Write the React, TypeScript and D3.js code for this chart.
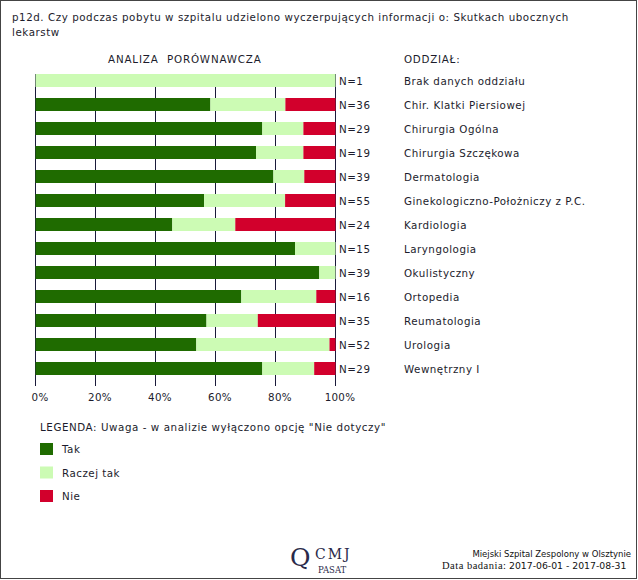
import React from "react";
import * as d3 from "d3";

const categories = [
  "Brak danych oddziału",
  "Chir. Klatki Piersiowej",
  "Chirurgia Ogólna",
  "Chirurgia Szczękowa",
  "Dermatologia",
  "Ginekologiczno-Położniczy z P.C.",
  "Kardiologia",
  "Laryngologia",
  "Okulistyczny",
  "Ortopedia",
  "Reumatologia",
  "Urologia",
  "Wewnętrzny I",
];
const nValues = [1, 36, 29, 19, 39, 55, 24, 15, 39, 16, 35, 52, 29];
const tak = [0, 58.3, 75.6, 73.5, 79.3, 56.2, 45.6, 86.5, 94.6, 68.6, 57.0, 53.6, 75.6];
const raczejTak = [100, 25.0, 13.7, 15.8, 10.3, 27.0, 21.0, 13.5, 5.4, 25.0, 17.1, 44.4, 17.3];
const nie = [0, 16.7, 10.7, 10.7, 10.4, 16.8, 33.4, 0, 0, 6.4, 25.9, 2.0, 7.1];
const seriesNames = ["Tak", "Raczej tak", "Nie"];
const seriesColors = ["#1f6b00", "#ccfbb4", "#d2002c"];
const tickValues = [0, 20, 40, 60, 80, 100];

const FONT = "'DejaVu Sans', Verdana, sans-serif";
const TEXT = "#1c1c2c";
const FS = 10.3;
const LS = 0.5;

export default function App() {
  const x = d3.scaleLinear().domain([0, 100]).range([35.5, 335.5]);
  const y = d3
    .scaleBand<string>()
    .domain(categories)
    .range([74, 375])
    .paddingInner(11 / 24)
    .paddingOuter(0);
  const rows = categories.map((c, i) => ({
    cat: c,
    n: nValues[i],
    tak: tak[i],
    raczej: raczejTak[i],
    nie: nie[i],
  }));
  const stack = d3.stack<any>().keys(["tak", "raczej", "nie"]);
  const stacked = stack(rows);
  const bw = y.bandwidth();

  return (
    <svg
      width={638}
      height={580}
      style={{ position: "absolute", left: 0, top: 0, background: "#fff" }}
      fontFamily={FONT}
    >
      <rect x={0.5} y={0.5} width={636} height={578} fill="#fff" stroke="#444" />
      <text x={12} y={20.5} fontSize={FS} letterSpacing={0.55} fill={TEXT}>
        p12d. Czy podczas pobytu w szpitalu udzielono wyczerpujących informacji o: Skutkach ubocznych
      </text>
      <text x={12} y={35.5} fontSize={FS} letterSpacing={0.55} fill={TEXT}>
        lekarstw
      </text>
      <text x={108} y={63} fontSize={FS} letterSpacing={0.85} fill={TEXT}>
        ANALIZA{"\u00a0\u00a0"}PORÓWNAWCZA
      </text>
      <text x={404} y={63} fontSize={FS} letterSpacing={0.75} fill={TEXT}>
        ODDZIAŁ:
      </text>

      {tickValues.map((t) => (
        <line
          key={"g" + t}
          x1={x(t)}
          x2={x(t)}
          y1={74}
          y2={386}
          stroke="#1a1a3a"
          strokeWidth={1}
        />
      ))}

      {stacked.map((s, si) => (
        <g key={si} fill={seriesColors[si]}>
          {s.map((d, i) =>
            d[1] - d[0] > 0 ? (
              <rect
                key={i}
                x={x(d[0])}
                y={y(categories[i])}
                width={x(d[1]) - x(d[0])}
                height={bw}
              />
            ) : null
          )}
        </g>
      ))}

      {tickValues.map((t) => (
        <text
          key={"t" + t}
          x={x(t) + 4.5}
          y={401}
          fontSize={FS}
          letterSpacing={0.3}
          textAnchor="middle"
          fill={TEXT}
        >
          {t + "%"}
        </text>
      ))}

      {rows.map((r) => (
        <g key={r.cat}>
          <text x={339} y={(y(r.cat) as number) + bw / 2 + 4.5} fontSize={FS} letterSpacing={LS} fill={TEXT}>
            {"N=" + r.n}
          </text>
          <text x={404} y={(y(r.cat) as number) + bw / 2 + 4.5} fontSize={FS} letterSpacing={LS} fill={TEXT}>
            {r.cat}
          </text>
        </g>
      ))}

      <text x={40} y={431} fontSize={FS} letterSpacing={0.57} fill={TEXT}>
        LEGENDA: Uwaga - w analizie wyłączono opcję "Nie dotyczy"
      </text>
      {seriesNames.map((name, i) => (
        <g key={name}>
          <rect x={40} y={443 + i * 23.5} width={13} height={12} fill={seriesColors[i]} />
          <text x={62} y={453 + i * 23.5} fontSize={FS} letterSpacing={LS} fill={TEXT}>
            {name}
          </text>
        </g>
      ))}

      <g fill="#2a2a4a" fontFamily="'DejaVu Serif', 'Liberation Serif', serif">
        <text x={290} y={566} fontSize={25}>Q</text>
        <text x={315} y={559} fontSize={14} letterSpacing={2}>CMJ</text>
        <text x={318} y={573} fontSize={8.5}>PASAT</text>
      </g>
      <text x={631} y={557} fontSize={8.5} textAnchor="end" fill="#111">
        Miejski Szpital Zespolony w Olsztynie
      </text>
      <text x={442} y={568.5} fontSize={9.3} fill="#111">
        <tspan fontFamily="'Liberation Serif', serif" fontSize={10.5} letterSpacing={0.5}>Data badania: </tspan>
        <tspan x={509}>2017-06-01 - 2017-08-31</tspan>
      </text>
    </svg>
  );
}
